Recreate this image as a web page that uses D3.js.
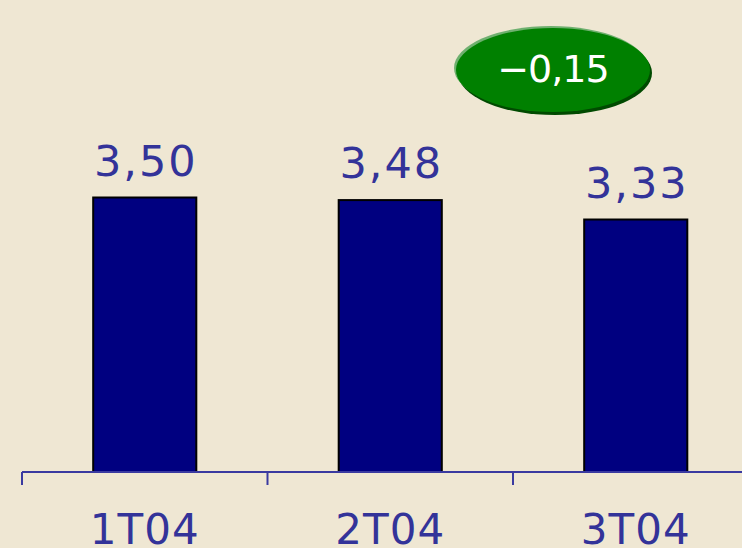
<!DOCTYPE html>
<html><head><meta charset="utf-8">
<script src="https://cdn.jsdelivr.net/npm/d3@7/dist/d3.min.js"></script>
<style>html,body{margin:0;padding:0;background:#EFE7D3;}svg{display:block;}</style>
</head><body>
<script>
const categories = ["1T04", "2T04", "3T04"];
const values = [3.50, 3.48, 3.33];
const valueLabels = ["3,50", "3,48", "3,33"];
const deltaLabel = "\u22120,15";

const W = 742, H = 548;
const svg = d3.select("body").append("svg").attr("width", W).attr("height", H);
svg.append("rect").attr("width", W).attr("height", H).attr("fill", "#EFE7D3");

const baseY = 472;
const x = d3.scaleBand().domain(categories).range([22, 758.5]).paddingInner(0.58).paddingOuter(0.29);
const y = d3.scaleLinear().domain([1.38, 3.5]).range([baseY, 197.5]);

const data = categories.map((c, i) => ({c, v: values[i], l: valueLabels[i]}));

svg.selectAll("rect.bar").data(data).enter().append("rect")
  .attr("class", "bar")
  .attr("x", d => x(d.c)).attr("y", d => y(d.v))
  .attr("width", x.bandwidth()).attr("height", d => baseY - y(d.v))
  .attr("fill", "#000080").attr("stroke", "#000").attr("stroke-width", 2);

// axis
const axisColor = "#3A3AA0";
svg.append("line").attr("x1", 22).attr("x2", W).attr("y1", baseY).attr("y2", baseY)
  .attr("stroke", axisColor).attr("stroke-width", 2);
const gap = (x.step() - x.bandwidth()) / 2;
svg.selectAll("line.tick").data(categories).enter().append("line")
  .attr("x1", d => x(d) - gap).attr("x2", d => x(d) - gap)
  .attr("y1", baseY).attr("y2", baseY + 13)
  .attr("stroke", axisColor).attr("stroke-width", 2);

svg.selectAll("text.cat").data(categories).enter().append("text")
  .attr("x", d => x(d) + x.bandwidth() / 2).attr("y", 544)
  .attr("text-anchor", "middle")
  .attr("font-family", "DejaVu Sans").attr("font-size", 42)
  .attr("letter-spacing", 1)
  .attr("fill", "#333399").text(d => d);

svg.selectAll("text.val").data(data).enter().append("text")
  .attr("x", d => x(d.c) + x.bandwidth() / 2 + 1).attr("y", d => y(d.v) - 22)
  .attr("text-anchor", "middle")
  .attr("font-family", "DejaVu Sans").attr("font-size", 43)
  .attr("letter-spacing", 2)
  .attr("fill", "#333399").text(d => d.l);

// delta ellipse
const cx = 553, cy = 70, rx = 97, ry = 42;
svg.append("ellipse").attr("cx", cx + 2).attr("cy", cy + 3).attr("rx", rx).attr("ry", ry).attr("fill", "#004A00");
svg.append("ellipse").attr("cx", cx - 2).attr("cy", cy - 2).attr("rx", rx).attr("ry", ry).attr("fill", "#6FB06F");
svg.append("ellipse").attr("cx", cx).attr("cy", cy).attr("rx", rx).attr("ry", ry).attr("fill", "#008000");
svg.append("text").attr("x", cx).attr("y", 82).attr("text-anchor", "middle")
  .attr("font-family", "DejaVu Sans").attr("font-size", 38)
  .attr("letter-spacing", -1)
  .attr("fill", "#fff").text(deltaLabel);
</script>
</body></html>
